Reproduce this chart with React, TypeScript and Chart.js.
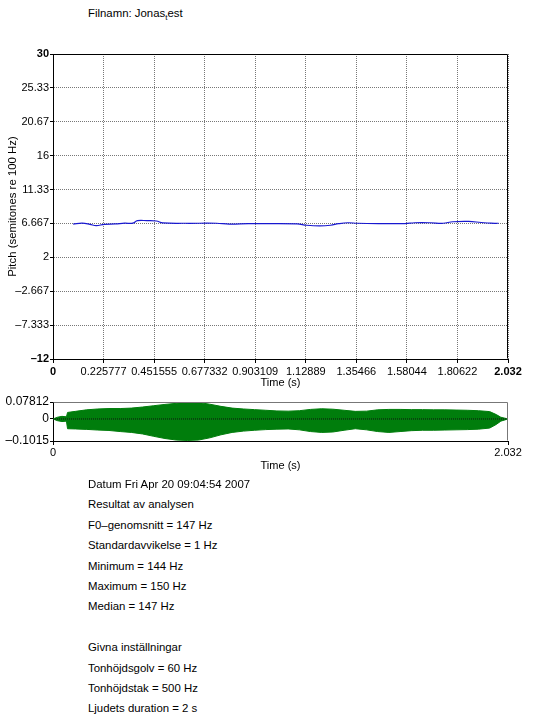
import React, { useEffect, useRef } from 'react';
import { Chart, registerables } from 'chart.js';
Chart.register(...registerables);

const FONT = "'Liberation Sans', Arial, Helvetica, sans-serif";
const FS = 11;
const TEXT_FS = 11.4;
const WAVE_Y_FS = 12;

// Pitch contour (semitones re 100 Hz)
const PITCH_TIMES = [0.09, 0.13, 0.165, 0.193, 0.229, 0.278, 0.32, 0.356, 0.377, 0.42, 0.462, 0.49, 0.589, 0.73, 0.787, 0.872, 0.977, 1.09, 1.133, 1.19, 1.24, 1.275, 1.317, 1.36, 1.473, 1.572, 1.615, 1.686, 1.742, 1.785, 1.856, 1.912, 1.955, 1.99];
const PITCH_VALUES = [6.57, 6.7, 6.55, 6.36, 6.55, 6.6, 6.7, 6.7, 7.05, 7.05, 7.0, 6.75, 6.69, 6.69, 6.57, 6.63, 6.65, 6.6, 6.42, 6.33, 6.42, 6.63, 6.76, 6.69, 6.65, 6.65, 6.76, 6.76, 6.69, 6.9, 6.95, 6.8, 6.7, 6.69];

const X_TICKS = [0, 0.225777, 0.451555, 0.677332, 0.903109, 1.12889, 1.35466, 1.58044, 1.80622, 2.032];
const X_LABELS = ['0', '0.225777', '0.451555', '0.677332', '0.903109', '1.12889', '1.35466', '1.58044', '1.80622', '2.032'];
const Y_TICKS = [-12, -7.333, -2.667, 2, 6.667, 11.333, 16, 20.667, 25.333, 30];
const Y_LABELS = ['–12', '–7.333', '–2.667', '2', '6.667', '11.33', '16', '20.67', '25.33', '30'];

// Waveform envelope
const WAVE_TIMES = [0, 0.02, 0.04, 0.06, 0.065, 0.1, 0.15, 0.2, 0.25, 0.3, 0.35, 0.4, 0.45, 0.5, 0.55, 0.6, 0.65, 0.7, 0.75, 0.8, 0.85, 0.9, 0.95, 1.0, 1.05, 1.1, 1.15, 1.2, 1.25, 1.3, 1.35, 1.4, 1.45, 1.5, 1.55, 1.6, 1.65, 1.7, 1.75, 1.8, 1.85, 1.9, 1.95, 1.98, 2.0, 2.032];
const WAVE_UPPER = [0, 0.008, 0.012, 0.01, 0.03, 0.035, 0.042, 0.046, 0.048, 0.048, 0.05, 0.055, 0.061, 0.067, 0.072, 0.077, 0.076, 0.068, 0.058, 0.05, 0.046, 0.043, 0.04, 0.037, 0.036, 0.038, 0.044, 0.047, 0.045, 0.04, 0.035, 0.036, 0.042, 0.044, 0.044, 0.043, 0.043, 0.042, 0.042, 0.041, 0.04, 0.038, 0.034, 0.02, 0.008, 0];
const WAVE_LOWER = [0, -0.008, -0.012, -0.01, -0.045, -0.046, -0.048, -0.051, -0.053, -0.058, -0.062, -0.069, -0.08, -0.09, -0.097, -0.099, -0.097, -0.087, -0.073, -0.062, -0.056, -0.052, -0.049, -0.047, -0.046, -0.05, -0.058, -0.062, -0.06, -0.052, -0.045, -0.05, -0.058, -0.062, -0.058, -0.054, -0.052, -0.052, -0.051, -0.05, -0.049, -0.047, -0.042, -0.025, -0.01, 0];
const WAVE_Y_TICKS = [-0.1015, 0, 0.07812];
const WAVE_Y_LABELS = ['–0.1015', '0', '0.07812'];
const WAVE_X_TICKS = [0, 2.032];
const WAVE_X_LABELS = ['0', '2.032'];

const INFO_LINES = [
  'Datum Fri Apr 20 09:04:54 2007',
  'Resultat av analysen',
  'F0–genomsnitt = 147 Hz',
  'Standardavvikelse = 1 Hz',
  'Minimum = 144 Hz',
  'Maximum = 150 Hz',
  'Median = 147 Hz',
  '',
  'Givna inställningar',
  'Tonhöjdsgolv = 60 Hz',
  'Tonhöjdstak = 500 Hz',
  'Ljudets duration = 2 s',
];

const framePlugin = {
  id: 'frame',
  afterDraw(chart: any, _args: any, opts: any) {
    const { ctx, chartArea: a } = chart;
    ctx.save();
    ctx.strokeStyle = opts.color || '#000';
    ctx.lineWidth = 1;
    const l = Math.round(a.left) + 0.5;
    const r = Math.round(a.right) - 0.5;
    const t = Math.round(a.top) + 0.5;
    const b = Math.round(a.bottom) - 0.5;
    ctx.beginPath();
    ctx.moveTo(l, t);
    ctx.lineTo(r, t);
    ctx.lineTo(r, b);
    ctx.stroke();
    ctx.restore();
  },
};

const boldEnds = (n: number) => (c: any) => ({
  size: FS,
  family: FONT,
  weight: c.index === 0 || c.index === n - 1 ? 'bold' : 'normal',
});

export default function App() {
  const pitchRef = useRef<HTMLCanvasElement>(null);
  const waveRef = useRef<HTMLCanvasElement>(null);

  useEffect(() => {
    const pitch = new Chart(pitchRef.current!, {
      type: 'line',
      data: {
        datasets: [
          {
            data: PITCH_TIMES.map((t, i) => ({ x: t, y: PITCH_VALUES[i] })),
            borderColor: '#1818d0',
            borderWidth: 1.2,
            pointRadius: 0,
            tension: 0.4,
            fill: false,
          },
        ],
      },
      options: {
        responsive: false,
        animation: false,
        devicePixelRatio: 1,
        layout: { padding: { left: 0, right: 41, top: 14, bottom: 0 } },
        plugins: { legend: { display: false }, tooltip: { enabled: false }, frame: { color: '#000' } } as any,
        scales: {
          x: {
            type: 'linear',
            min: 0,
            max: 2.032,
            afterBuildTicks: (s: any) => { s.ticks = X_TICKS.map((v) => ({ value: v })); },
            afterFit: (s: any) => { s.height = 36; },
            ticks: {
              autoSkip: false,
              maxRotation: 0,
              padding: 2,
              color: '#000',
              font: boldEnds(X_TICKS.length) as any,
              callback: (_v: any, i: number) => X_LABELS[i],
            },
            grid: { color: '#777', lineWidth: 1, tickLength: 4, tickColor: '#000' },
            border: { display: true, color: '#000', width: 1, dash: [1, 1] },
            title: { display: true, text: 'Time (s)', color: '#000', font: { size: FS, family: FONT }, padding: { top: 0, bottom: 5 } },
          },
          y: {
            type: 'linear',
            min: -12,
            max: 30,
            afterBuildTicks: (s: any) => { s.ticks = Y_TICKS.map((v) => ({ value: v })); },
            afterFit: (s: any) => { s.width = 53; },
            ticks: {
              autoSkip: false,
              padding: 1,
              color: '#000',
              font: boldEnds(Y_TICKS.length) as any,
              callback: (_v: any, i: number) => Y_LABELS[i],
            },
            grid: { color: '#777', lineWidth: 1, tickLength: 3, tickColor: '#000' },
            border: { display: true, color: '#000', width: 1, dash: [1, 1] },
            title: { display: true, text: 'Pitch (semitones re 100 Hz)', color: '#000', font: { size: TEXT_FS, family: FONT }, padding: { top: 6, bottom: 0 } },
          },
        },
      },
      plugins: [framePlugin],
    } as any);

    const green = 'rgb(0,125,12)';
    const wave = new Chart(waveRef.current!, {
      type: 'line',
      data: {
        datasets: [
          {
            // zero reference line drawn above the waveform
            data: WAVE_X_TICKS.map((t) => ({ x: t, y: 0 })),
            borderColor: '#111',
            borderWidth: 1,
            borderDash: [1, 1],
            pointRadius: 0,
            fill: false,
            order: -1,
          },
          {
            data: WAVE_TIMES.map((t, i) => ({ x: t, y: WAVE_UPPER[i] })),
            borderColor: green,
            backgroundColor: green,
            borderWidth: 1,
            pointRadius: 0,
            tension: 0,
            fill: '+1',
          },
          {
            data: WAVE_TIMES.map((t, i) => ({ x: t, y: WAVE_LOWER[i] })),
            borderColor: green,
            backgroundColor: green,
            borderWidth: 1,
            pointRadius: 0,
            tension: 0,
            fill: false,
          },
        ],
      },
      options: {
        responsive: false,
        animation: false,
        devicePixelRatio: 1,
        layout: { padding: { left: 0, right: 41, top: 12, bottom: 0 } },
        plugins: { legend: { display: false }, tooltip: { enabled: false }, frame: { color: '#777' } } as any,
        scales: {
          x: {
            type: 'linear',
            min: 0,
            max: 2.032,
            afterBuildTicks: (s: any) => { s.ticks = WAVE_X_TICKS.map((v) => ({ value: v })); },
            afterFit: (s: any) => { s.height = 32; },
            ticks: {
              autoSkip: false,
              maxRotation: 0,
              padding: 1,
              color: '#000',
              font: { size: FS, family: FONT },
              callback: (_v: any, i: number) => WAVE_X_LABELS[i],
            },
            grid: { drawOnChartArea: false, tickLength: 4, tickColor: '#000', color: '#000' },
            border: { display: true, color: '#000', width: 1 },
            title: { display: true, text: 'Time (s)', color: '#000', font: { size: FS, family: FONT }, padding: { top: 0, bottom: 0 } },
          },
          y: {
            type: 'linear',
            min: -0.1015,
            max: 0.07812,
            afterBuildTicks: (s: any) => { s.ticks = WAVE_Y_TICKS.map((v) => ({ value: v })); },
            afterFit: (s: any) => { s.width = 53; },
            ticks: {
              autoSkip: false,
              padding: 1,
              color: '#000',
              font: { size: WAVE_Y_FS, family: FONT },
              callback: (_v: any, i: number) => WAVE_Y_LABELS[i],
            },
            grid: { drawOnChartArea: false, tickColor: '#000', color: '#000', tickLength: 3, lineWidth: 1 },
            border: { display: true, color: '#000', width: 1 },
          },
        },
      },
      plugins: [framePlugin],
    } as any);

    return () => {
      pitch.destroy();
      wave.destroy();
    };
  }, []);

  const textStyle: React.CSSProperties = {
    position: 'absolute',
    left: 88,
    fontFamily: FONT,
    fontSize: TEXT_FS,
    lineHeight: '12px',
    color: '#000',
    whiteSpace: 'nowrap',
  };

  return (
    <div style={{ position: 'absolute', left: 0, top: 0, width: 549, height: 716, background: '#fff', overflow: 'hidden' }}>
      <div style={{ ...textStyle, top: 7 }}>
        Filnamn: Jonas<span style={{ fontSize: 8, position: 'relative', top: 3 }}>t</span>est
      </div>
      <canvas ref={pitchRef} width={549} height={355} style={{ position: 'absolute', left: 0, top: 40, width: 549, height: 355 }} />
      <canvas ref={waveRef} width={549} height={83} style={{ position: 'absolute', left: 0, top: 390, width: 549, height: 83 }} />
      {INFO_LINES.map((line, i) =>
        line ? (
          <div key={i} style={{ ...textStyle, top: 478 + i * 20.4 }}>
            {line}
          </div>
        ) : null
      )}
    </div>
  );
}
